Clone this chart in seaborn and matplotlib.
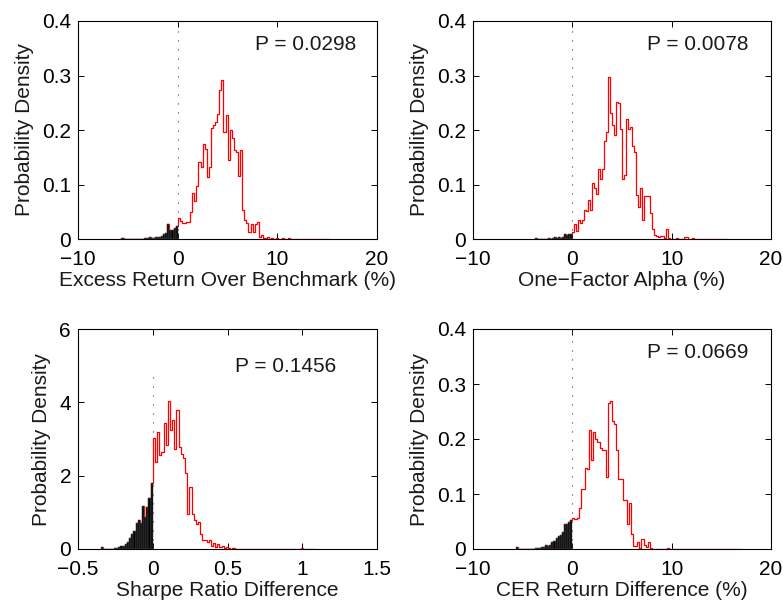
import numpy as np
import pandas as pd
import matplotlib
matplotlib.use("Agg")
import matplotlib.pyplot as plt
import seaborn as sns

# ---------------- data ----------------
# Each panel: histogram bin width, index of the first bin (bin k spans [k*w, (k+1)*w]),
# and probability density of each bin from the first bin onward.
p1_width = 0.209
p1_first_bin = -27
p1_density = [
    0.002, 0, 0, 0, 0, 0, 0, 0, 0, 0, 0.0005, 0.001, 0.001, 0.003, 0.001, 0.0015,
    0.004, 0.003, 0.004, 0.005, 0.009, 0.011, 0.028, 0.016, 0.017, 0.021, 0.023,
    0.038, 0.033, 0.029, 0.029, 0.032, 0.032, 0.050, 0.084, 0.069, 0.097, 0.142,
    0.133, 0.174, 0.166, 0.114, 0.133, 0.203, 0.209, 0.215, 0.230, 0.273, 0.292,
    0.197, 0.228, 0.145, 0.200, 0.185, 0.163, 0.160, 0.116, 0.163, 0.053, 0.035,
    0.030, 0.012, 0.028, 0.012, 0.028, 0.031, 0.004, 0.007, 0.001, 0.001, 0.003,
    0, 0.002, 0, 0.001, 0, 0, 0.001, 0, 0, 0.001, 0, 0, 0, 0, 0, 0, 0, 0, 0, 0, 0,
    0, 0, 0, 0, 0, 0, 0, 0,
]

p2_width = 0.200
p2_first_bin = -19
p2_density = [
    0.002, 0, 0, 0, 0, 0, 0, 0.001, 0, 0.002, 0.003, 0.001, 0.004, 0.002, 0.004,
    0.009, 0.008, 0.010, 0.009,
    0.012, 0.027, 0.014, 0.035, 0.029, 0.035, 0.054, 0.052, 0.072, 0.054, 0.103,
    0.093, 0.083, 0.128, 0.111, 0.128, 0.179, 0.196, 0.297, 0.231, 0.209, 0.191,
    0.252, 0.250, 0.201, 0.111, 0.117, 0.220, 0.201, 0.205, 0.170, 0.160, 0.081,
    0.059, 0.093, 0.035, 0.078, 0.078, 0.078, 0.047, 0.018, 0.007, 0.006, 0.003,
    0.005, 0.006, 0.002, 0.019, 0.002,
    0, 0, 0, 0.001, 0, 0, 0, 0.003, 0.003, 0, 0, 0.001, 0, 0, 0, 0, 0, 0, 0, 0, 0,
    0, 0, 0, 0, 0, 0, 0, 0,
]

p3_width = 0.0144
p3_first_bin = -24
p3_density = [
    0.05, 0, 0, 0, 0.01, 0.01, 0.03, 0.04, 0.05, 0.07, 0.08, 0.13, 0.20, 0.30,
    0.40, 0.50, 0.72, 0.78, 0.70, 1.17, 0.88, 1.15, 1.40, 1.80,
    3.02, 2.36, 3.20, 2.56, 2.65, 3.43, 2.85, 4.04, 3.24, 3.53, 2.74, 3.79, 2.79,
    2.59, 2.47, 2.08, 0.95, 1.68, 0.95, 0.80, 0.68, 0.75, 0.42, 0.25, 0.25, 0.20,
    0.25, 0.08, 0.15, 0.05, 0.14, 0.05, 0.08, 0.02, 0.06, 0.03, 0.01, 0.02,
    0, 0, 0, 0, 0, 0, 0, 0, 0, 0, 0, 0, 0, 0, 0, 0, 0, 0, 0, 0, 0, 0, 0, 0, 0, 0,
    0, 0, 0, 0, 0, 0.02, 0, 0, 0, 0, 0, 0,
]

p4_width = 0.211
p4_first_bin = -27
p4_density = [
    0.003, 0, 0, 0, 0, 0, 0, 0, 0, 0.001, 0.002, 0.002, 0.004, 0.004, 0.007,
    0.006, 0.008, 0.012, 0.014, 0.020, 0.024, 0.026, 0.031, 0.045, 0.046, 0.050,
    0.052,
    0.056, 0.054, 0.056, 0.075, 0.109, 0.109, 0.148, 0.145, 0.216, 0.162, 0.212,
    0.200, 0.195, 0.183, 0.180, 0.180, 0.131, 0.266, 0.270, 0.232, 0.228, 0.180,
    0.128, 0.128, 0.089, 0.089, 0.045, 0.084, 0.027, 0.006, 0.006, 0.012, 0.002,
    0.018, 0.008, 0.004, 0.012, 0.002, 0,
    0, 0, 0, 0, 0, 0, 0.002, 0, 0, 0, 0, 0, 0, 0, 0, 0, 0, 0, 0, 0, 0, 0, 0, 0,
    0, 0, 0, 0, 0, 0, 0, 0, 0, 0, 0, 0, 0, 0, 0, 0, 0, 0,
]

p_values = ["P = 0.0298", "P = 0.0078", "P = 0.1456", "P = 0.0669"]
x_labels = ["Excess Return Over Benchmark (%)", "One\u2212Factor Alpha (%)",
            "Sharpe Ratio Difference", "CER Return Difference (%)"]
y_label = "Probability Density"
x_ticks = [[-10, 0, 10, 20], [-10, 0, 10, 20], [-0.5, 0, 0.5, 1, 1.5], [-10, 0, 10, 20]]
x_tick_labels = [["\u221210", "0", "10", "20"], ["\u221210", "0", "10", "20"],
                 ["\u22120.5", "0", "0.5", "1", "1.5"], ["\u221210", "0", "10", "20"]]
y_ticks = [[0, 0.1, 0.2, 0.3, 0.4], [0, 0.1, 0.2, 0.3, 0.4], [0, 2, 4, 6],
           [0, 0.1, 0.2, 0.3, 0.4]]
y_tick_labels = [["0", "0.1", "0.2", "0.3", "0.4"], ["0", "0.1", "0.2", "0.3", "0.4"],
                 ["0", "2", "4", "6"], ["0", "0.1", "0.2", "0.3", "0.4"]]
zero_line_top = [0.4, 0.4, 4.9, 0.4]

# ---------------- style ----------------
sns.set_style("white")
plt.rcParams['font.family'] = ['Liberation Sans', 'DejaVu Sans']
plt.rcParams['axes.unicode_minus'] = True

W, H = 783, 603
fig = plt.figure(figsize=(W / 100, H / 100), dpi=100)

# axes boxes in pixels: left, top, right, bottom
boxes = [(78, 21, 377, 239), (473, 21, 771, 239), (78, 329, 377, 549), (473, 329, 771, 549)]
text_pos = [(0.592, 0.867), (0.583, 0.867), (0.525, 0.806), (0.583, 0.867)]

panels = [
    (p1_width, p1_first_bin, p1_density),
    (p2_width, p2_first_bin, p2_density),
    (p3_width, p3_first_bin, p3_density),
    (p4_width, p4_first_bin, p4_density),
]

FS = 15
for i, (w, first, dens) in enumerate(panels):
    l, t, r, b = boxes[i]
    ax = fig.add_axes([l / W, 1 - b / H, (r - l) / W, (b - t) / H])
    dens = np.asarray(dens, dtype=float)
    edges = (first + np.arange(len(dens) + 1)) * w
    centers = (edges[:-1] + edges[1:]) / 2
    df = pd.DataFrame({"value": centers, "density": dens})
    neg_df = df[df["value"] < 0]
    n_neg = len(neg_df)

    # red step outline of the whole distribution
    sns.histplot(data=df, x="value", weights="density", bins=edges.tolist(),
                 element="step", fill=False, color="#ff0000", linewidth=0.9,
                 stat="count", ax=ax, zorder=2)
    # black bars for the negative part
    sns.histplot(data=neg_df, x="value", weights="density",
                 bins=edges[:n_neg + 1].tolist(), element="bars", fill=True,
                 color="black", alpha=1, edgecolor="#5a5a5a", linewidth=0.35,
                 stat="count", ax=ax, zorder=3)

    # dotted zero line
    ax.vlines(0, 0, zero_line_top[i], colors="#444444", linewidth=0.8,
              linestyles=(0, (1, 7.1)), zorder=1)

    ax.set_xlim(x_ticks[i][0], x_ticks[i][-1])
    ax.set_ylim(y_ticks[i][0], y_ticks[i][-1])
    ax.set_xticks(x_ticks[i])
    ax.set_xticklabels(x_tick_labels[i])
    ax.set_yticks(y_ticks[i])
    ax.set_yticklabels(y_tick_labels[i])
    ax.tick_params(direction="in", top=True, right=True, bottom=True, left=True,
                   length=4, width=0.7, color="black", labelsize=FS,
                   labelcolor="black")
    ax.tick_params(axis="x", pad=8)
    ax.tick_params(axis="y", pad=5)
    for s in ax.spines.values():
        s.set_visible(True)
        s.set_color("black")
        s.set_linewidth(0.8)
    ax.set_xlabel(x_labels[i], fontsize=FS, color="#1a1a1a", labelpad=1)
    ax.set_ylabel(y_label, fontsize=FS, color="#1a1a1a", labelpad=6)
    ax.text(text_pos[i][0], text_pos[i][1], p_values[i], transform=ax.transAxes,
            ha="left", va="baseline", fontsize=FS, color="#1a1a1a")

fig.savefig("out.png", dpi=100)
